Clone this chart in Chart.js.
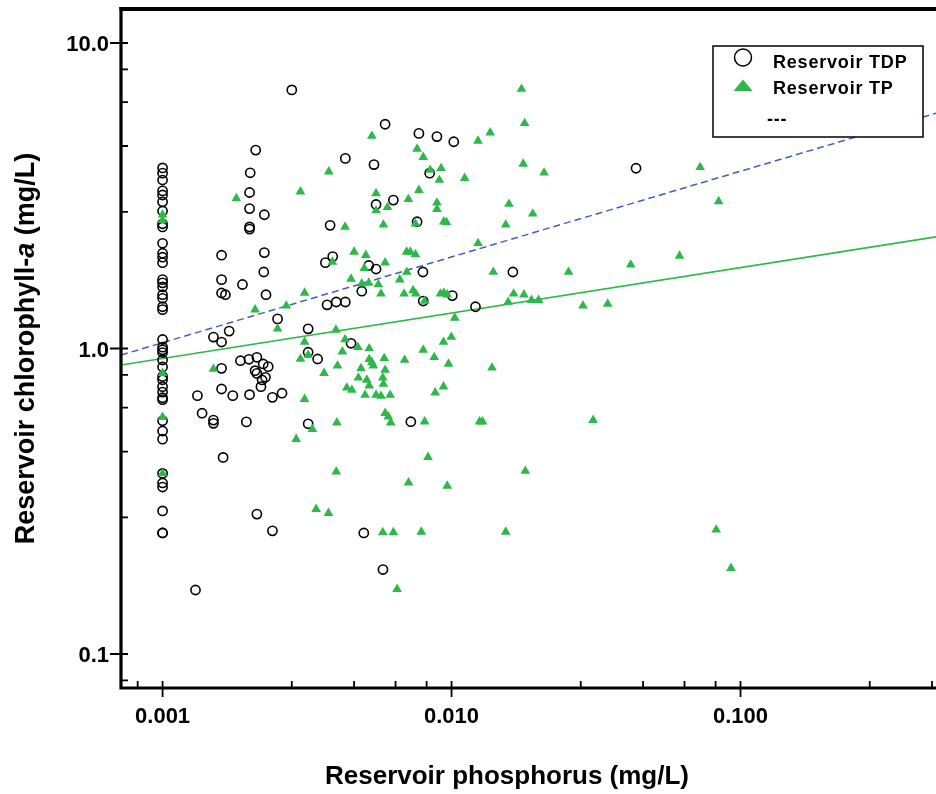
<!DOCTYPE html>
<html>
<head>
<meta charset="utf-8">
<script src="https://cdn.jsdelivr.net/npm/chart.js@4.4.1/dist/chart.umd.min.js"></script>
<style>
  html, body { margin: 0; padding: 0; background: #fff; }
  #wrap { width: 936px; height: 794px; }
</style>
</head>
<body>
<div id="wrap"><canvas id="scatterChart" width="936" height="794"></canvas></div>
<script>
// Reservoir TDP (open circles)
const tdpX = [
  0.001, 0.001, 0.001, 0.001, 0.001, 0.001, 0.001, 0.001, 0.001, 0.001,
  0.001, 0.001, 0.001, 0.001, 0.001, 0.001, 0.001, 0.001, 0.001, 0.001,
  0.001, 0.001, 0.001, 0.001, 0.001, 0.001, 0.001, 0.001, 0.001, 0.001,
  0.001, 0.001, 0.001, 0.001, 0.001, 0.001, 0.001, 0.001, 0.001, 0.001,
  0.001,
  0.00130, 0.00280, 0.00210, 0.00201, 0.00200, 0.00200, 0.00200, 0.00200, 0.00225, 0.00380,
  0.00429, 0.00539, 0.00589, 0.00548, 0.00629, 0.00771, 0.00890, 0.01018, 0.00840, 0.00760,
  0.0435, 0.00225, 0.00160, 0.00388, 0.00224, 0.00160, 0.00189, 0.00160, 0.00165, 0.00228,
  0.00366, 0.00517, 0.00548, 0.00489, 0.00371, 0.00399, 0.00429, 0.00250, 0.00170, 0.00150,
  0.00160, 0.00319, 0.00319, 0.00344, 0.00449, 0.00186, 0.00199, 0.00212, 0.00160, 0.00223,
  0.00232, 0.00209, 0.00212, 0.00227, 0.00221, 0.00219, 0.00132, 0.00160, 0.00175, 0.00200,
  0.00240, 0.00259, 0.00137, 0.00150, 0.00150, 0.00195, 0.00319, 0.00723, 0.00162, 0.00212,
  0.00240, 0.00497, 0.00579, 0.00796, 0.0163, 0.00798, 0.01006, 0.0121
];
const tdpY = [
  3.90, 3.75, 3.56, 3.28, 3.18, 3.02, 2.82, 2.56, 2.50, 2.21,
  2.05, 1.99, 1.91, 1.68, 1.64, 1.59, 1.50, 1.46, 1.37, 1.34,
  1.07, 1.01, 0.99, 0.97, 0.917, 0.87, 0.81, 0.79, 0.75, 0.72,
  0.69, 0.68, 0.58, 0.537, 0.505, 0.39, 0.363, 0.352, 0.294, 0.249,
  0.249,
  0.162, 7.02, 4.46, 3.76, 3.24, 2.87, 2.50, 2.46, 2.74, 2.53,
  4.19, 4.00, 5.42, 2.96, 3.06, 5.06, 4.94, 4.75, 3.75, 2.60,
  3.89, 2.06, 2.02, 2.00, 1.78, 1.68, 1.62, 1.52, 1.50, 1.50,
  1.91, 1.87, 1.82, 1.54, 1.39, 1.42, 1.42, 1.25, 1.14, 1.09,
  1.05, 1.16, 0.972, 0.924, 1.04, 0.912, 0.922, 0.936, 0.861, 0.89,
  0.872, 0.846, 0.829, 0.805, 0.789, 0.75, 0.701, 0.737, 0.701, 0.706,
  0.692, 0.714, 0.614, 0.583, 0.569, 0.575, 0.567, 0.576, 0.44, 0.287,
  0.253, 0.249, 0.189, 1.78, 1.78, 1.43, 1.49, 1.37
];

// Reservoir TP (filled triangles)
const tpX = [
  0.0018, 0.0030, 0.00376, 0.0053, 0.00548, 0.00548, 0.0060, 0.00581, 0.00428, 0.00709,
  0.0076, 0.00771, 0.0075, 0.0046, 0.00505, 0.00699, 0.0072, 0.0075, 0.01746, 0.0179,
  0.0136, 0.01235, 0.00798, 0.0092, 0.00843, 0.00907, 0.0111, 0.0177, 0.0209, 0.0725,
  0.0089, 0.0089, 0.0158, 0.0191, 0.084, 0.0094, 0.0096, 0.0154, 0.01235, 0.0615,
  0.0417, 0.0254, 0.01395, 0.0070, 0.00662, 0.00685, 0.00736, 0.00752, 0.00915, 0.0094,
  0.00966, 0.00807, 0.0164, 0.0178, 0.0157, 0.0189, 0.0200, 0.0285, 0.0347, 0.01026,
  0.00998, 0.00938, 0.00798, 0.00871, 0.00688, 0.00976, 0.0138, 0.00938, 0.00878, 0.00807,
  0.0125, 0.0128, 0.0309, 0.00829, 0.018, 0.0071, 0.00966, 0.00786, 0.0154, 0.0824,
  0.0927, 0.00648, 0.00399, 0.0034, 0.00375, 0.00578, 0.00629, 0.00589, 0.00387, 0.00499,
  0.00449, 0.0031, 0.00489, 0.00517, 0.00558, 0.0057, 0.00209, 0.00268, 0.0025, 0.00398,
  0.0031, 0.00428, 0.00419, 0.00474, 0.00519, 0.0030, 0.00319, 0.00403, 0.00362, 0.00519,
  0.0053, 0.00585, 0.00486, 0.00536, 0.00589, 0.00476, 0.00509, 0.00578, 0.00581, 0.00434,
  0.00452, 0.00519, 0.00502, 0.00548, 0.0057, 0.00613, 0.0015, 0.0031, 0.00589, 0.00604,
  0.00616, 0.00401, 0.0033, 0.0029, 0.001, 0.001, 0.001, 0.001, 0.001
];
const tpY = [
  3.10, 3.26, 3.79, 4.96, 3.22, 2.83, 2.90, 2.54, 2.50, 3.08,
  4.50, 3.30, 2.56, 2.07, 2.02, 2.07, 2.07, 2.03, 7.07, 5.46,
  5.09, 4.78, 4.23, 3.89, 3.84, 3.56, 3.61, 4.02, 3.76, 3.92,
  3.00, 2.86, 2.97, 2.76, 3.03, 2.60, 2.59, 2.54, 2.21, 2.01,
  1.88, 1.78, 1.78, 1.78, 1.68, 1.51, 1.55, 1.51, 1.51, 1.52,
  1.50, 1.43, 1.51, 1.50, 1.42, 1.44, 1.44, 1.38, 1.40, 1.26,
  1.09, 1.05, 0.989, 0.936, 0.917, 0.89, 0.865, 0.75, 0.717, 0.576,
  0.576, 0.576, 0.583, 0.441, 0.397, 0.364, 0.355, 0.251, 0.251, 0.255,
  0.191, 0.163, 0.395, 0.298, 0.289, 0.25, 0.25, 1.91, 1.92, 1.83,
  1.69, 1.52, 1.63, 1.64, 1.62, 1.51, 1.34, 1.38, 1.16, 1.15,
  1.05, 1.07, 0.976, 1.01, 1.00, 0.924, 0.952, 0.878, 0.83, 0.922,
  0.901, 0.929, 0.861, 0.878, 0.85, 0.802, 0.789, 0.802, 0.765, 0.744,
  0.731, 0.756, 0.704, 0.704, 0.699, 0.704, 0.857, 0.683, 0.614, 0.598,
  0.572, 0.572, 0.544, 0.505, 2.74, 2.63, 0.83, 0.596, 0.39
];

// fitted lines, end points read at the plot edges
const tdpFitX = [0.000718, 0.4748];
const tdpFitY = [0.952, 5.89];
const tpFitX = [0.000718, 0.4748];
const tpFitY = [0.883, 2.32];

// axes
const xMin = 0.000718, xMax = 0.4748;
const yMin = 0.0774, yMax = 12.92;
const xTickValues = [0.00082, 0.001, 0.0028, 0.0046, 0.0064, 0.0082, 0.01, 0.028, 0.046, 0.064, 0.082, 0.1, 0.28, 0.46];
const xMajorTicks = [0.001, 0.01, 0.1];
const xTickLabels = ['0.001', '0.010', '0.100'];
const yTickValues = [0.082, 0.1, 0.28, 0.46, 0.64, 0.82, 1, 2.8, 4.6, 6.4, 8.2, 10];
const yMajorTicks = [0.1, 1, 10];
const yTickLabels = ['0.1', '1.0', '10.0'];

const legendLabels = ['Reservoir TDP', 'Reservoir TP', '---'];

const GREEN = '#2db84a';
const BLUE = '#4060c0';
const FONT = '"Liberation Sans", Arial, Helvetica, sans-serif';

const toPoints = (xs, ys) => xs.map((x, i) => ({ x: x, y: ys[i] }));

// no extra room for tick labels, the plot area is fixed
const noPad = s => {
  s.paddingLeft = 0; s.paddingRight = 0;
  s.paddingTop = 0; s.paddingBottom = 0;
};

const frame = {
  id: 'frame',
  afterDraw(chart) {
    const ctx = chart.ctx;
    const a = chart.chartArea;
    const xs = chart.scales.x, ys = chart.scales.y;
    ctx.save();
    ctx.strokeStyle = '#000';
    ctx.lineCap = 'butt';

    // axis lines and top border
    ctx.lineWidth = 3.2;
    ctx.beginPath();
    ctx.moveTo(a.left, a.top - 2); ctx.lineTo(a.left, a.bottom + 1.5);
    ctx.moveTo(a.left - 1.5, a.bottom); ctx.lineTo(a.right, a.bottom);
    ctx.stroke();
    ctx.lineWidth = 4;
    ctx.beginPath();
    ctx.moveTo(a.left - 1.5, a.top); ctx.lineTo(a.right, a.top);
    ctx.stroke();

    // tick marks
    ctx.lineWidth = 1.8;
    ctx.beginPath();
    xTickValues.forEach(v => {
      const px = xs.getPixelForValue(v);
      const major = xMajorTicks.includes(v);
      ctx.moveTo(px, a.bottom - 7);
      ctx.lineTo(px, a.bottom + (major ? 9 : 0));
    });
    yTickValues.forEach(v => {
      const py = ys.getPixelForValue(v);
      const major = yMajorTicks.includes(v);
      ctx.moveTo(a.left - (major ? 11 : 0), py);
      ctx.lineTo(a.left + 7, py);
    });
    ctx.stroke();

    // legend box
    ctx.lineWidth = 1.5;
    ctx.fillStyle = '#fff';
    ctx.fillRect(713, 46, 210, 91);
    ctx.strokeRect(713, 46, 210, 91);
    ctx.beginPath();
    ctx.arc(743, 57.5, 8.5, 0, Math.PI * 2);
    ctx.stroke();
    ctx.fillStyle = GREEN;
    ctx.beginPath();
    ctx.moveTo(743, 79.5); ctx.lineTo(752.5, 91); ctx.lineTo(733.5, 91);
    ctx.closePath();
    ctx.fill();

    ctx.fillStyle = '#000';
    ctx.font = 'bold 18px ' + FONT;
    ctx.textAlign = 'left';
    ctx.textBaseline = 'alphabetic';
    if ('letterSpacing' in ctx) ctx.letterSpacing = '0.8px';
    ctx.fillText(legendLabels[0], 773, 67.5);
    ctx.fillText(legendLabels[1], 773, 93.5);
    ctx.fillText(legendLabels[2], 767, 125);
    if ('letterSpacing' in ctx) ctx.letterSpacing = '0px';

    // x title
    ctx.font = 'bold 26px ' + FONT;
    ctx.textAlign = 'center';
    ctx.fillText('Reservoir phosphorus (mg/L)', 507, 784);

    // y title with italic "a"
    const parts = [
      ['Reservoir chlorophyll-', 'bold 27px ' + FONT],
      ['a', 'italic bold 27px ' + FONT],
      [' (mg/L)', 'bold 27px ' + FONT]
    ];
    let total = 0;
    parts.forEach(p => { ctx.font = p[1]; total += ctx.measureText(p[0]).width; });
    ctx.translate(34, (a.top + a.bottom) / 2);
    ctx.rotate(-Math.PI / 2);
    ctx.textAlign = 'left';
    let cx = -total / 2;
    parts.forEach(p => {
      ctx.font = p[1];
      ctx.fillText(p[0], cx, 0);
      cx += ctx.measureText(p[0]).width;
    });
    ctx.restore();
  }
};

const ctx = document.getElementById('scatterChart').getContext('2d');
const scatterChart = new Chart(ctx, {
  type: 'scatter',
  data: {
    datasets: [{
      label: 'Reservoir TP',
      data: toPoints(tpX, tpY),
      pointStyle: 'triangle',
      pointRadius: 5.6,
      backgroundColor: GREEN,
      borderColor: GREEN,
      borderWidth: 0,
      order: 0
    }, {
      label: 'Reservoir TDP',
      data: toPoints(tdpX, tdpY),
      pointStyle: 'circle',
      pointRadius: 4.6,
      backgroundColor: 'rgba(255,255,255,0)',
      borderColor: '#000',
      borderWidth: 1.6,
      order: 1
    }, {
      type: 'line',
      label: 'TDP fit',
      data: toPoints(tdpFitX, tdpFitY),
      borderColor: BLUE,
      borderDash: [7, 4],
      borderWidth: 1.5,
      pointRadius: 0,
      fill: false,
      order: 2
    }, {
      type: 'line',
      label: 'TP fit',
      data: toPoints(tpFitX, tpFitY),
      borderColor: GREEN,
      borderWidth: 1.7,
      pointRadius: 0,
      fill: false,
      order: 2
    }]
  },
  options: {
    responsive: false,
    animation: false,
    devicePixelRatio: 1,
    layout: { padding: { top: 9, left: 0, right: 0, bottom: 0 }, autoPadding: false },
    plugins: {
      legend: { display: false },
      tooltip: { enabled: false }
    },
    scales: {
      x: {
        type: 'logarithmic',
        min: xMin,
        max: xMax,
        grid: { display: false, drawTicks: false },
        border: { display: false },
        afterBuildTicks: s => { s.ticks = xTickValues.map(v => ({ value: v })); },
        afterFit: s => { s.height = 106; noPad(s); },
        ticks: {
          autoSkip: false,
          maxRotation: 0,
          padding: 16,
          color: '#000',
          font: { family: FONT, size: 22, weight: 'bold' },
          callback: v => {
            const i = xMajorTicks.indexOf(v);
            return i >= 0 ? xTickLabels[i] : '';
          }
        }
      },
      y: {
        type: 'logarithmic',
        min: yMin,
        max: yMax,
        grid: { display: false, drawTicks: false },
        border: { display: false },
        afterBuildTicks: s => { s.ticks = yTickValues.map(v => ({ value: v })); },
        afterFit: s => { s.width = 121; noPad(s); },
        ticks: {
          autoSkip: false,
          padding: 12,
          labelOffset: 2,
          color: '#000',
          font: { family: FONT, size: 22, weight: 'bold' },
          callback: v => {
            const i = yMajorTicks.indexOf(v);
            return i >= 0 ? yTickLabels[i] : '';
          }
        }
      }
    }
  },
  plugins: [frame]
});
</script>
</body>
</html>
